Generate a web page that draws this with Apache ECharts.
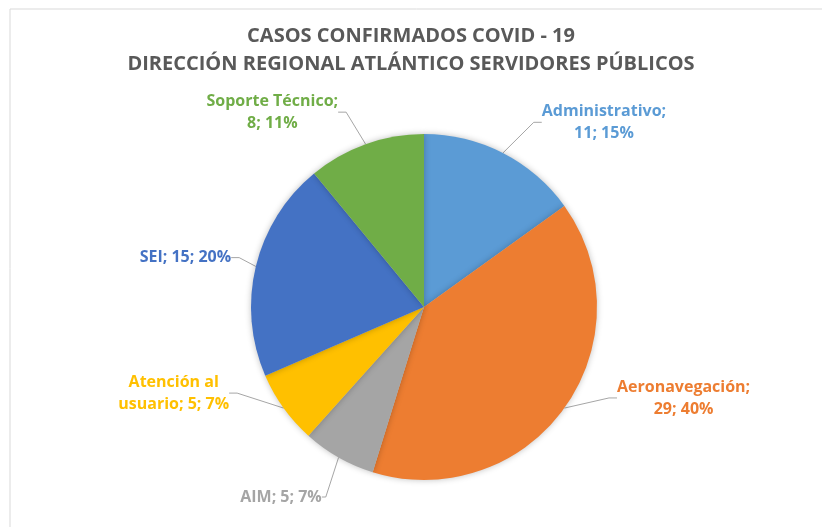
<!DOCTYPE html>
<html>
<head>
<meta charset="utf-8">
<script src="https://cdn.jsdelivr.net/npm/echarts@6/dist/echarts.min.js"></script>
<style>
  html, body { margin: 0; padding: 0; background: #fff; }
  #main { width: 822px; height: 527px; }
</style>
</head>
<body>
<div id="main"></div>
<script>
// datos del grafico
var categories = ['Administrativo', 'Aeronavegación', 'AIM', 'Atención al\nusuario', 'SEI', 'Soporte Técnico'];
var casos = [11, 29, 5, 5, 15, 8];
var colores = ['#5B9BD5', '#ED7D31', '#A5A5A5', '#FFC000', '#4472C4', '#70AD47'];
// formato de cada etiqueta (donde corta la linea)
var formatos = ['{b};\n{c}; {d}%', '{b};\n{c}; {d}%', '{b}; {c}; {d}%', '{b}; {c}; {d}%', '{b}; {c}; {d}%', '{b};\n{c}; {d}%'];
// largo de las lineas guia y desplazamiento de etiquetas (estilo Excel)
var largoLinea = [48, 34, 34, 24, 12, 34];
var largoLinea2 = [8, 8, 4, 8, 8, 8];
var despX = [4, 12, 9, -22, 0, -3];
var despY = [12, -30, 10, -29, -6, 0];

var myChart = echarts.init(document.getElementById('main'));

var pieData = categories.map(function (name, i) {
    return {
        name: name,
        value: casos[i],
        itemStyle: { color: colores[i] },
        label: { color: colores[i], formatter: formatos[i] },
        labelLine: { length: largoLinea[i], length2: largoLinea2[i] }
    };
});

var option = {
    backgroundColor: '#fff',
    animation: false,
    title: {
        text: 'CASOS CONFIRMADOS COVID - 19\nDIRECCIÓN REGIONAL ATLÁNTICO SERVIDORES PÚBLICOS',
        left: 'center',
        top: 17,
        textStyle: {
            fontFamily: 'Open Sans',
            fontWeight: 'bold',
            fontSize: 20,
            lineHeight: 28,
            color: '#595959'
        }
    },
    graphic: [{
        type: 'rect',
        shape: { x: 10, y: 9, width: 830, height: 540 },
        style: { fill: 'none', stroke: '#d9d9d9', lineWidth: 1 },
        silent: true
    }],
    series: [{
        type: 'pie',
        center: [424, 307],
        radius: 173,
        startAngle: 90,
        clockwise: true,
        percentPrecision: 0,
        data: pieData,
        itemStyle: {
            borderWidth: 0,
            shadowBlur: 6,
            shadowColor: 'rgba(0,0,0,0.25)'
        },
        label: {
            show: true,
            position: 'outside',
            fontFamily: 'Open Sans',
            fontWeight: 'bold',
            fontSize: 16,
            lineHeight: 22,
            align: 'center',
            verticalAlign: 'middle'
        },
        labelLine: {
            show: true,
            lineStyle: { color: '#a6a6a6', width: 1 }
        },
        labelLayout: function (params) {
            var r = params.labelRect;
            var i = params.dataIndex;
            return {
                x: r.x + r.width / 2 + despX[i],
                y: r.y + r.height / 2 + despY[i],
                align: 'center',
                verticalAlign: 'middle'
            };
        }
    }]
};

myChart.setOption(option);
</script>
</body>
</html>
